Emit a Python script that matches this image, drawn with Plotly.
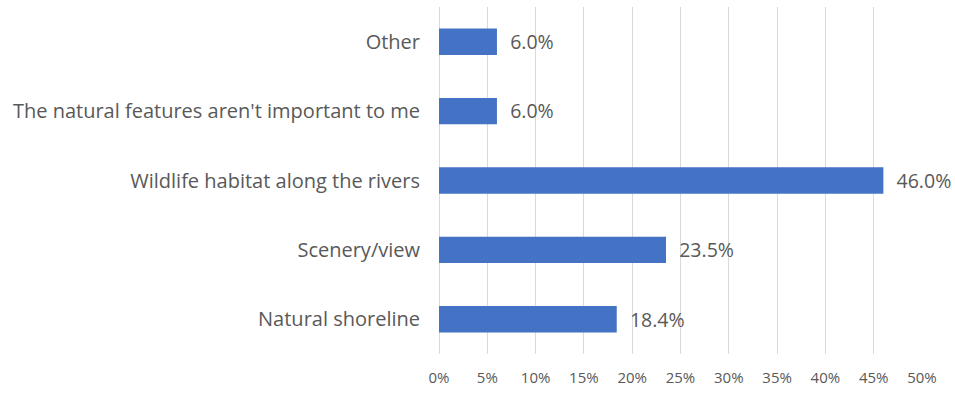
import plotly.graph_objects as go

# Survey responses: which natural feature matters most (bottom to top)
categories = [
    "Natural shoreline",
    "Scenery/view",
    "Wildlife habitat along the rivers",
    "The natural features aren't important to me",
    "Other",
]
percentages = [18.4, 23.5, 46.0, 6.0, 6.0]
tick_values = [0, 5, 10, 15, 20, 25, 30, 35, 40, 45, 50]
tick_labels = [f"{v}%" for v in tick_values]

FONT = "Open Sans"
TEXT_GREY = "#595959"

fig = go.Figure(
    go.Bar(
        x=percentages,
        y=categories,
        orientation="h",
        marker=dict(color="#4472C4", line=dict(width=0)),
        width=0.38,
        text=[f"{v:.1f}%" for v in percentages],
        texttemplate="  %{text}",
        textposition="outside",
        textfont=dict(family=FONT, size=20, color=TEXT_GREY),
        cliponaxis=False,
    )
)

fig.update_layout(
    width=955,
    height=394,
    margin=dict(l=439, r=33, t=7, b=34),
    paper_bgcolor="white",
    plot_bgcolor="white",
    showlegend=False,
    font=dict(family=FONT, color=TEXT_GREY),
    xaxis=dict(
        range=[0, 50],
        tickvals=tick_values,
        ticktext=tick_labels,
        showgrid=True,
        gridcolor="#D9D9D9",
        gridwidth=1,
        zeroline=True,
        zerolinecolor="#D9D9D9",
        zerolinewidth=1,
        showline=False,
        ticks="",
        tickfont=dict(family=FONT, size=15, color=TEXT_GREY),
        ticklabelstandoff=13,
        fixedrange=True,
    ),
    yaxis=dict(
        categoryorder="array",
        categoryarray=categories,
        showgrid=False,
        zeroline=False,
        showline=False,
        ticks="",
        tickfont=dict(family=FONT, size=20, color=TEXT_GREY),
        ticklabelstandoff=18,
        fixedrange=True,
    ),
)

fig.write_html("out.html")
